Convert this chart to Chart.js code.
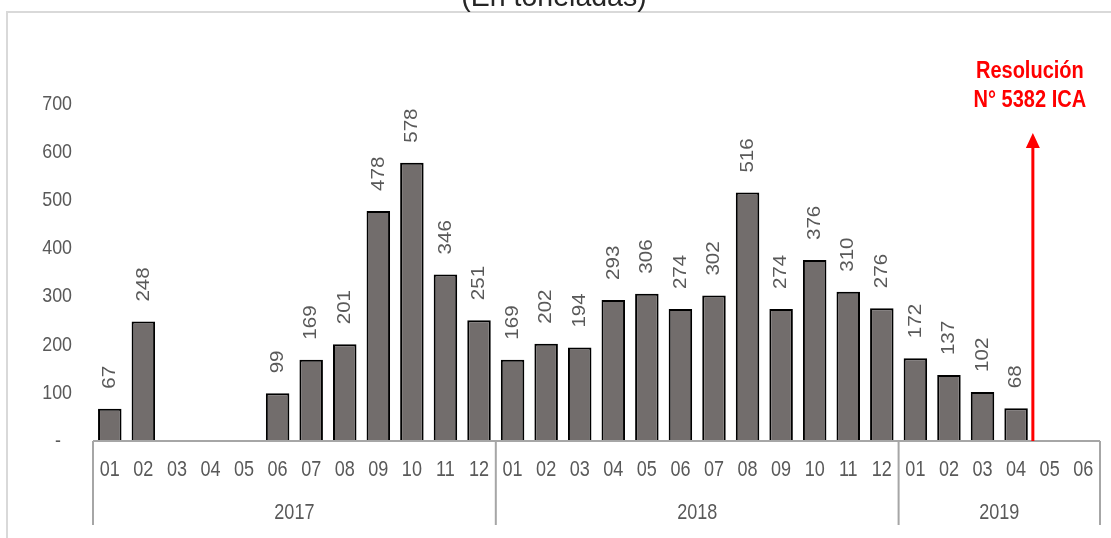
<!DOCTYPE html>
<html>
<head>
<meta charset="utf-8">
<script src="https://cdn.jsdelivr.net/npm/chart.js@4/dist/chart.umd.min.js"></script>
<style>
  html, body { margin: 0; padding: 0; background: #fff; }
  #wrap { width: 1111px; height: 538px; position: relative; }
</style>
</head>
<body>
<div id="wrap"><canvas id="chart" width="1111" height="538"></canvas></div>
<script>
// months shown on the lower axis, grouped by year
var months = ['01','02','03','04','05','06','07','08','09','10','11','12',
              '01','02','03','04','05','06','07','08','09','10','11','12',
              '01','02','03','04','05','06'];
var years = ['2017', '2018', '2019'];
var yearSizes = [12, 12, 6];

// tonnes per month (null = no data)
var tonnes = [67, 248, null, null, null, 99, 169, 201, 478, 578, 346, 251,
              169, 202, 194, 293, 306, 274, 302, 516, 274, 376, 310, 276,
              172, 137, 102, 68, null, null];

var yTicks = [0, 100, 200, 300, 400, 500, 600, 700];

// Resolución marker sits between these two categories, arrow tip value
var markerAfter = 27;
var markerTop = 640;
var markerText = ['Resolución', 'N° 5382 ICA'];
var titleText = '(En toneladas)';

var grayText = '#595959';
var FONT = '"Liberation Sans", Arial, sans-serif';

function squeezeText(ctx, txt, x, y, font, color, align, sx) {
  ctx.save();
  ctx.translate(x, y);
  ctx.scale(sx, 1);
  ctx.font = font;
  ctx.fillStyle = color;
  ctx.textAlign = align;
  ctx.textBaseline = 'middle';
  ctx.fillText(txt, 0, 0);
  ctx.restore();
}

var extras = {
  id: 'extras',
  beforeDraw: function(chart) {
    var ctx = chart.ctx;
    ctx.save();
    // outer frame
    ctx.strokeStyle = '#d9d9d9';
    ctx.lineWidth = 2;
    ctx.strokeRect(7, 12, 1200, 600);
    // title, mostly cut off at the top
    ctx.font = '30px ' + FONT;
    ctx.fillStyle = '#262626';
    ctx.textAlign = 'center';
    ctx.textBaseline = 'alphabetic';
    ctx.save();
    ctx.translate(554, 6);
    ctx.scale(0.95, 1);
    ctx.fillText(titleText, 0, 0);
    ctx.restore();
    ctx.restore();
  },
  afterDatasetsDraw: function(chart) {
    var ctx = chart.ctx;
    var xs = chart.scales.x, ys = chart.scales.y;
    var area = chart.chartArea;
    var base = ys.getPixelForValue(0);
    var meta = chart.getDatasetMeta(0);

    // value labels, rotated
    meta.data.forEach(function(bar, i) {
      var v = tonnes[i];
      if (v === null) return;
      ctx.save();
      ctx.translate(bar.x, bar.y - 20);
      ctx.rotate(-Math.PI / 2);
      ctx.scale(1.08, 1);
      ctx.font = '19px ' + FONT;
      ctx.fillStyle = grayText;
      ctx.textAlign = 'left';
      ctx.textBaseline = 'middle';
      ctx.fillText(String(v), 0, 0);
      ctx.restore();
    });

    // y tick labels
    yTicks.forEach(function(t) {
      var py = ys.getPixelForValue(t);
      if (t === 0) squeezeText(ctx, '-', 58, py, '21px ' + FONT, grayText, 'center', 0.85);
      else squeezeText(ctx, String(t), 72, py, '21px ' + FONT, grayText, 'right', 0.85);
    });

    // category axis: baseline, year separators, labels
    var step = xs.getPixelForValue(1) - xs.getPixelForValue(0);
    ctx.save();
    ctx.strokeStyle = '#a6a6a6';
    ctx.lineWidth = 2;
    ctx.beginPath();
    ctx.moveTo(area.left, base);
    ctx.lineTo(area.right, base);
    var idx = 0;
    var bounds = [area.left];
    yearSizes.forEach(function(n) { idx += n; bounds.push(xs.getPixelForValue(idx - 1) + step / 2); });
    bounds.forEach(function(bx) {
      ctx.moveTo(bx, base);
      ctx.lineTo(bx, 525);
    });
    ctx.stroke();
    ctx.restore();

    months.forEach(function(m, i) {
      squeezeText(ctx, m, xs.getPixelForValue(i), 470, '22px ' + FONT, grayText, 'center', 0.82);
    });
    years.forEach(function(yr, k) {
      squeezeText(ctx, yr, (bounds[k] + bounds[k + 1]) / 2, 513, '22px ' + FONT, grayText, 'center', 0.82);
    });

    // red marker arrow
    var mx = xs.getPixelForValue(markerAfter) + step / 2;
    var tip = ys.getPixelForValue(markerTop);
    ctx.save();
    ctx.strokeStyle = '#ff0000';
    ctx.fillStyle = '#ff0000';
    ctx.lineWidth = 3;
    ctx.beginPath();
    ctx.moveTo(mx, base);
    ctx.lineTo(mx, tip + 12);
    ctx.stroke();
    ctx.beginPath();
    ctx.moveTo(mx, tip);
    ctx.lineTo(mx - 7, tip + 15);
    ctx.lineTo(mx + 7, tip + 15);
    ctx.closePath();
    ctx.fill();
    ctx.restore();
    squeezeText(ctx, markerText[0], mx - 3, 72, 'bold 23px ' + FONT, '#ff0000', 'center', 0.87);
    squeezeText(ctx, markerText[1], mx - 3, 101, 'bold 23px ' + FONT, '#ff0000', 'center', 0.87);
  }
};

var ctx = document.getElementById('chart').getContext('2d');
var chart = new Chart(ctx, {
  type: 'bar',
  data: {
    labels: months,
    datasets: [{
      data: tonnes,
      backgroundColor: '#726d6c',
      borderColor: '#000000',
      borderWidth: 2,
      barPercentage: 0.7,
      categoryPercentage: 1.0
    }]
  },
  options: {
    responsive: false,
    animation: false,
    layout: { padding: { left: 93, right: 11, top: 104, bottom: 97 } },
    plugins: { legend: { display: false }, tooltip: { enabled: false } },
    scales: {
      x: { display: false },
      y: { display: false, min: 0, max: 700 }
    }
  },
  plugins: [extras]
});
</script>
</body>
</html>
